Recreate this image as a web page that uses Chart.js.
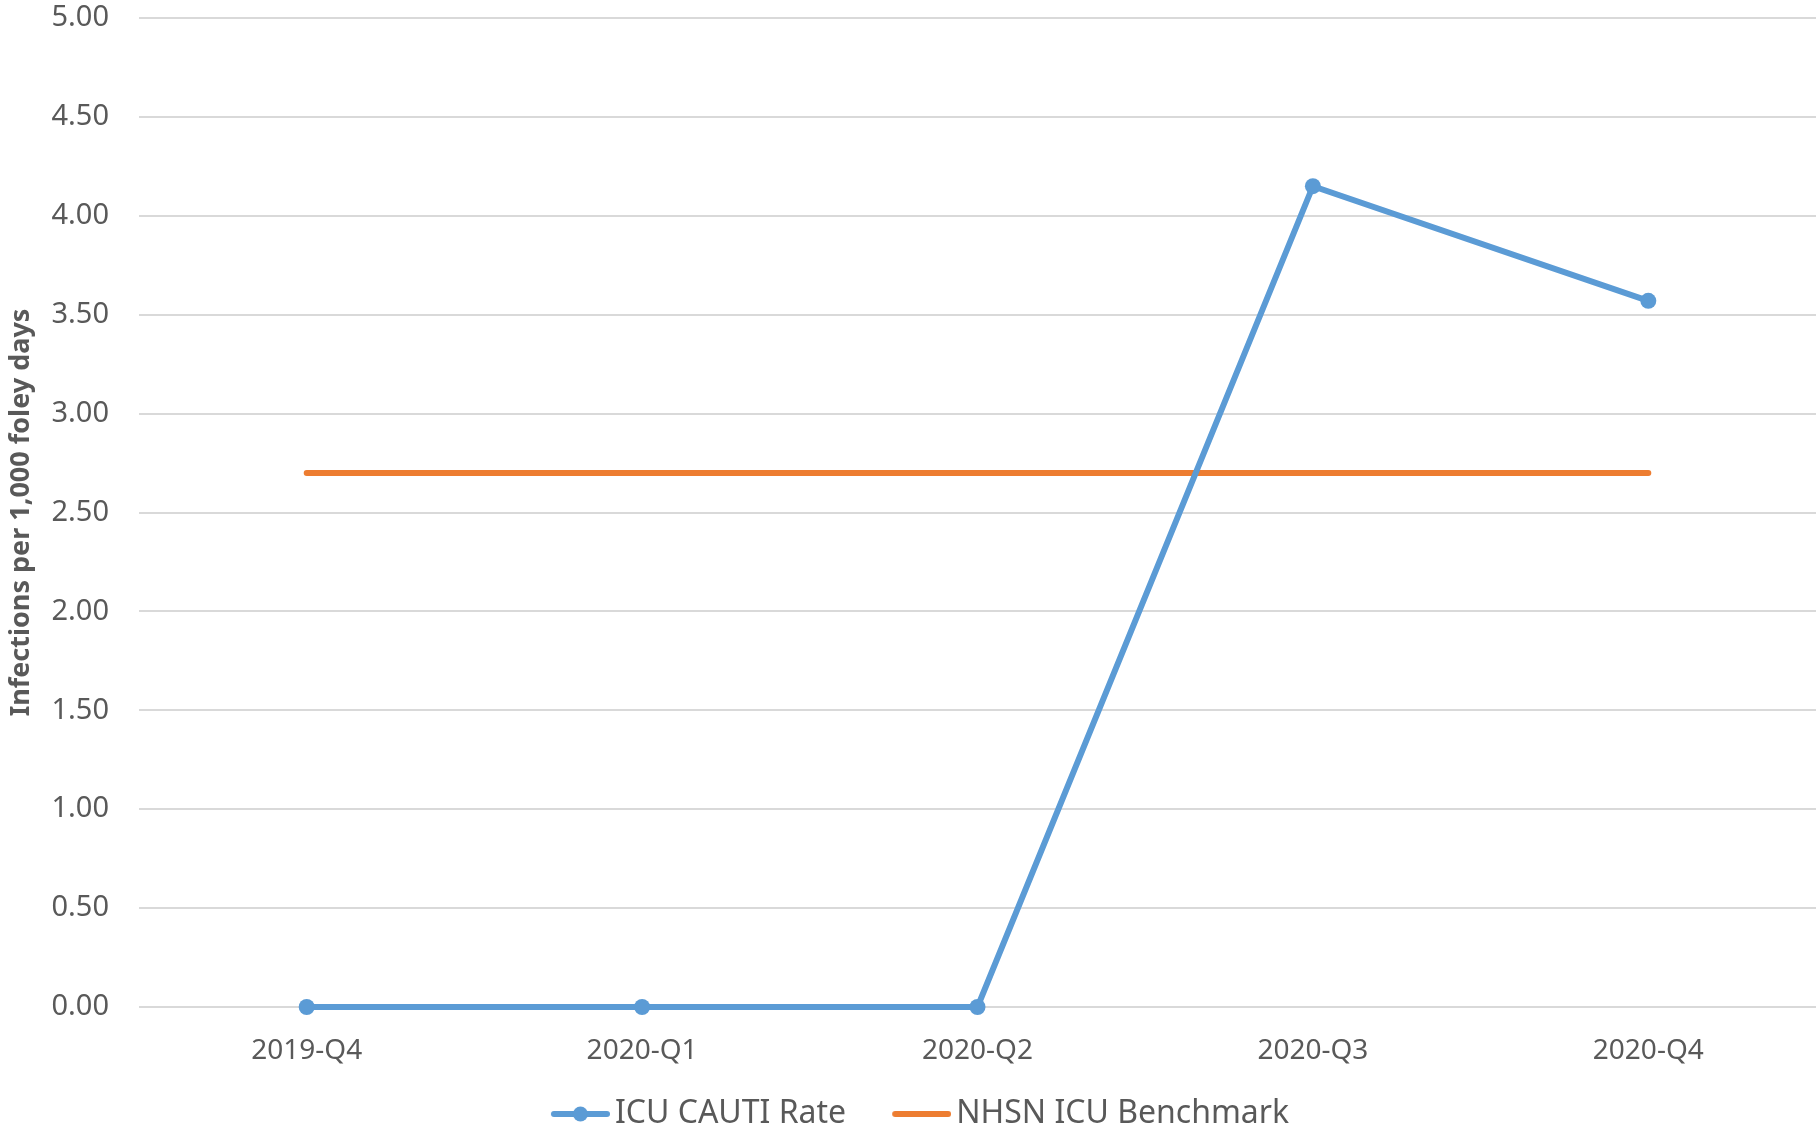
<!DOCTYPE html>
<html>
<head>
<meta charset="utf-8">
<script src="https://cdn.jsdelivr.net/npm/chart.js@4"></script>
<style>
  html, body { margin: 0; padding: 0; background: #fff; overflow: hidden; }
  #wrap { width: 1816px; height: 1131px; }
</style>
</head>
<body>
<div id="wrap"><canvas id="rateChart"></canvas></div>
<script>
var quarters = ['2019-Q4', '2020-Q1', '2020-Q2', '2020-Q3', '2020-Q4'];
var cautiRate = [0, 0, 0, 4.15, 3.57];
var benchmark = [2.70, 2.70, 2.70, 2.70, 2.70];
var yTicks = [0, 0.5, 1, 1.5, 2, 2.5, 3, 3.5, 4, 4.5, 5];

var blue = '#5b9bd5';
var orange = '#ed7d31';
var textColor = '#595959';
var fontFamily = '"Noto Sans", "Open Sans", sans-serif';

// legend marker: transparent space on the left so the line sits close to the text
function legendIcon(color, dot) {
  var c = document.createElement('canvas');
  c.width = 86; c.height = 18;
  var g = c.getContext('2d');
  g.strokeStyle = color;
  g.lineWidth = 6;
  g.lineCap = 'round';
  g.beginPath(); g.moveTo(30, 9); g.lineTo(83, 9); g.stroke();
  if (dot) {
    g.fillStyle = color;
    g.beginPath(); g.arc(56.5, 9, 7.5, 0, Math.PI * 2); g.fill();
  }
  return c;
}

window.onload = function() {
  var ctx = document.getElementById('rateChart').getContext('2d');
  var icons = [legendIcon(blue, true), legendIcon(orange, false)];

  new Chart(ctx, {
    type: 'line',
    data: {
      labels: quarters,
      datasets: [{
        label: 'ICU CAUTI Rate',
        data: cautiRate,
        borderColor: blue,
        backgroundColor: blue,
        borderWidth: 6,
        pointRadius: 8,
        pointBorderWidth: 0,
        pointStyle: 'circle',
        clip: false,
        tension: 0
      }, {
        label: 'NHSN ICU Benchmark',
        data: benchmark,
        borderColor: orange,
        backgroundColor: orange,
        borderWidth: 6,
        borderCapStyle: 'round',
        pointRadius: 0,
        clip: false,
        tension: 0
      }]
    },
    options: {
      responsive: true,
      maintainAspectRatio: false,
      animation: false,
      layout: { autoPadding: false, padding: { left: 8, right: 0, top: 18, bottom: -9 } },
      plugins: {
        tooltip: { enabled: false },
        legend: {
          position: 'bottom',
          labels: {
            color: textColor,
            font: { family: fontFamily, size: 32 },
            usePointStyle: true,
            pointStyleWidth: 64,
            padding: 30,
            generateLabels: function(chart) {
              return chart.data.datasets.map(function(ds, i) {
                return {
                  text: ds.label,
                  pointStyle: icons[i],
                  fontColor: textColor,
                  lineWidth: 0,
                  strokeStyle: 'transparent',
                  fillStyle: 'transparent',
                  datasetIndex: i
                };
              });
            }
          }
        }
      },
      scales: {
        x: {
          offset: true,
          grid: { display: false },
          border: { display: false },
          afterFit: function(s) { s.height = 61; },
          ticks: {
            color: textColor,
            font: { family: fontFamily, size: 28, lineHeight: 1.1 },
            padding: 21,
            maxRotation: 0
          }
        },
        y: {
          min: 0,
          max: 5,
          afterBuildTicks: function(axis) {
            axis.ticks = yTicks.map(function(v) { return { value: v }; });
          },
          afterFit: function(s) { s.width = 131; s.paddingTop = 0; s.paddingBottom = 0; },
          grid: { color: '#d9d9d9', lineWidth: 2, drawTicks: false },
          border: { display: false },
          title: {
            display: true,
            text: 'Infections per 1,000 foley days',
            color: textColor,
            font: { family: fontFamily, size: 27, weight: 'bold', lineHeight: 1 },
            padding: { top: 0, bottom: 0 }
          },
          ticks: {
            color: textColor,
            font: { family: fontFamily, size: 29 },
            padding: 30,
            callback: function(v) { return Number(v).toFixed(2); }
          }
        }
      }
    }
  });
};
</script>
</body>
</html>
